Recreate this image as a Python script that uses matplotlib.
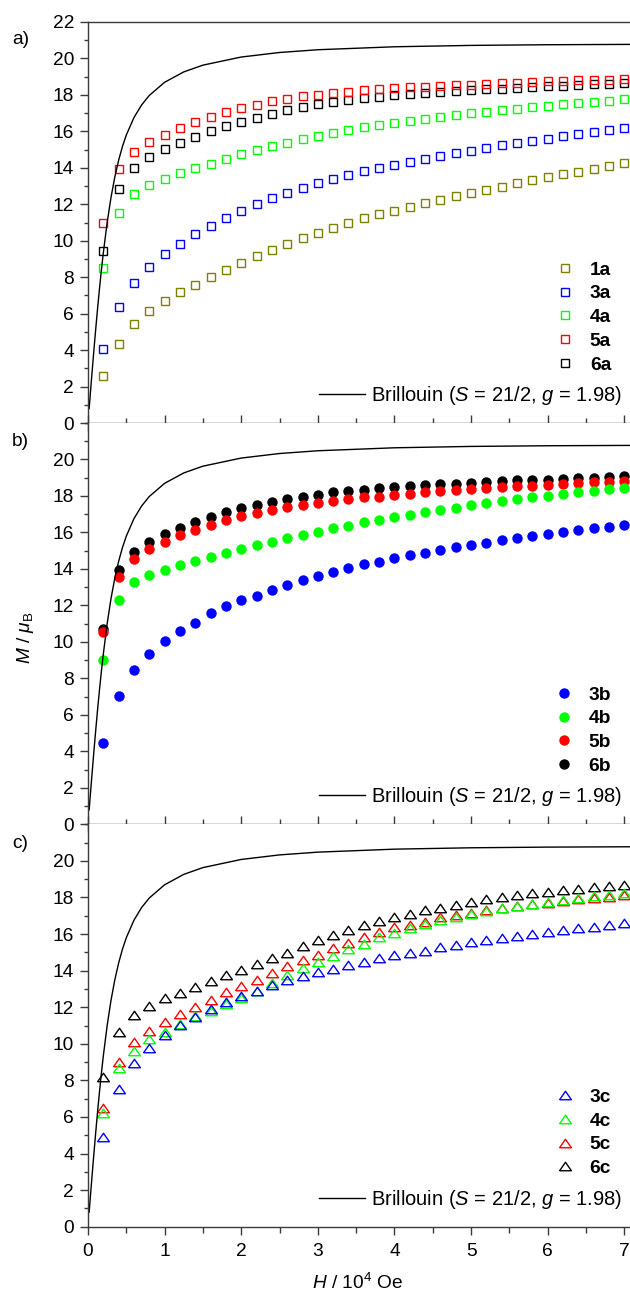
import numpy as np
import matplotlib
matplotlib.use("Agg")
import matplotlib.pyplot as plt
from matplotlib.ticker import MultipleLocator

plt.rcParams['font.family'] = ['Liberation Sans', 'DejaVu Sans']
plt.rcParams['mathtext.fontset'] = 'custom'
plt.rcParams['mathtext.rm'] = 'Liberation Sans'
plt.rcParams['mathtext.it'] = 'Liberation Sans:italic'
plt.rcParams['mathtext.bf'] = 'Liberation Sans:bold'

# field in 10^4 Oe, 0.2 ... 7.0
H = [0.2, 0.4, 0.6, 0.8, 1.0, 1.2, 1.4, 1.6, 1.8, 2.0, 2.2, 2.4, 2.6, 2.8, 3.0,
     3.2, 3.4, 3.6, 3.8, 4.0, 4.2, 4.4, 4.6, 4.8, 5.0, 5.2, 5.4, 5.6, 5.8, 6.0,
     6.2, 6.4, 6.6, 6.8, 7.0]

# Brillouin curve, S = 21/2, g = 1.98 (2 K)
H_bri = [0.015, 0.03, 0.05, 0.075, 0.1, 0.125, 0.15, 0.175, 0.2, 0.25, 0.3, 0.35,
         0.4, 0.45, 0.5, 0.6, 0.7, 0.8, 1.0, 1.25, 1.5, 2.0, 2.5, 3.0, 4.0, 5.0,
         6.0, 7.1]
M_bri = [0.795, 1.588, 2.627, 3.897, 5.119, 6.282, 7.375, 8.395, 9.338, 10.996,
         12.370, 13.496, 14.418, 15.174, 15.799, 16.758, 17.451, 17.971, 18.693,
         19.262, 19.633, 20.078, 20.327, 20.478, 20.641, 20.716, 20.753, 20.772]

# panel a
M_1a = [2.58, 4.33, 5.43, 6.14, 6.71, 7.17, 7.59, 7.99, 8.39, 8.78, 9.16, 9.51,
        9.84, 10.15, 10.42, 10.71, 10.95, 11.24, 11.45, 11.64, 11.87, 12.08,
        12.25, 12.45, 12.63, 12.80, 12.96, 13.15, 13.31, 13.48, 13.64, 13.79,
        13.95, 14.11, 14.25]
M_3a = [4.08, 6.38, 7.68, 8.56, 9.27, 9.84, 10.35, 10.82, 11.24, 11.63, 12.00,
        12.34, 12.63, 12.91, 13.15, 13.38, 13.60, 13.81, 13.99, 14.17, 14.34,
        14.50, 14.66, 14.81, 14.94, 15.09, 15.23, 15.36, 15.47, 15.60, 15.72,
        15.84, 15.95, 16.05, 16.16]
M_4a = [8.49, 11.52, 12.56, 13.04, 13.38, 13.71, 13.97, 14.23, 14.50, 14.76,
        14.98, 15.19, 15.38, 15.58, 15.74, 15.93, 16.06, 16.22, 16.33, 16.46,
        16.57, 16.68, 16.79, 16.88, 16.99, 17.08, 17.17, 17.24, 17.33, 17.41,
        17.48, 17.54, 17.61, 17.68, 17.76]
M_5a = [10.95, 13.95, 14.88, 15.41, 15.81, 16.16, 16.51, 16.80, 17.04, 17.30,
        17.46, 17.65, 17.79, 17.92, 18.01, 18.09, 18.17, 18.27, 18.30, 18.36,
        18.41, 18.45, 18.49, 18.52, 18.56, 18.60, 18.63, 18.67, 18.71, 18.74,
        18.78, 18.80, 18.82, 18.83, 18.85]
M_6a = [9.45, 12.85, 13.99, 14.57, 15.03, 15.38, 15.71, 16.00, 16.27, 16.51,
        16.71, 16.93, 17.15, 17.32, 17.48, 17.59, 17.72, 17.83, 17.90, 17.99,
        18.05, 18.10, 18.16, 18.21, 18.27, 18.30, 18.34, 18.38, 18.41, 18.47,
        18.50, 18.54, 18.58, 18.61, 18.65]

# panel b
M_3b = [4.45, 7.01, 8.44, 9.33, 10.03, 10.61, 11.05, 11.56, 11.96, 12.27,
        12.51, 12.82, 13.13, 13.37, 13.59, 13.81, 14.06, 14.25, 14.39, 14.59,
        14.76, 14.88, 15.05, 15.19, 15.30, 15.41, 15.56, 15.70, 15.81, 15.91,
        16.02, 16.13, 16.22, 16.29, 16.40]
M_4b = [8.99, 12.29, 13.26, 13.66, 13.92, 14.21, 14.43, 14.66, 14.88, 15.10,
        15.29, 15.47, 15.69, 15.87, 16.03, 16.24, 16.36, 16.55, 16.69, 16.82,
        16.95, 17.10, 17.24, 17.35, 17.50, 17.61, 17.72, 17.81, 17.92, 18.01,
        18.10, 18.21, 18.28, 18.37, 18.44]
M_5b = [10.55, 13.57, 14.52, 15.07, 15.47, 15.84, 16.13, 16.42, 16.67, 16.89,
        17.06, 17.22, 17.40, 17.50, 17.62, 17.72, 17.81, 17.92, 17.97, 18.04,
        18.10, 18.21, 18.26, 18.33, 18.37, 18.43, 18.48, 18.52, 18.57, 18.61,
        18.66, 18.72, 18.76, 18.77, 18.83]
M_6b = [10.70, 13.93, 14.94, 15.49, 15.92, 16.27, 16.58, 16.85, 17.11, 17.32,
        17.51, 17.68, 17.84, 17.95, 18.06, 18.19, 18.26, 18.35, 18.41, 18.48,
        18.54, 18.59, 18.65, 18.66, 18.72, 18.77, 18.81, 18.85, 18.87, 18.90,
        18.94, 18.96, 18.99, 19.05, 19.08]

# panel c
M_3c = [4.92, 7.51, 8.93, 9.78, 10.46, 11.04, 11.48, 11.90, 12.27, 12.61,
        12.90, 13.21, 13.48, 13.70, 13.94, 14.10, 14.32, 14.48, 14.67, 14.83,
        14.97, 15.10, 15.27, 15.41, 15.54, 15.65, 15.78, 15.89, 16.00, 16.10,
        16.20, 16.32, 16.41, 16.50, 16.58]
M_4c = [6.20, 8.66, 9.62, 10.24, 10.66, 11.08, 11.51, 11.80, 12.17, 12.52,
        12.90, 13.30, 13.75, 14.12, 14.48, 14.79, 15.16, 15.45, 15.85, 16.07,
        16.31, 16.54, 16.76, 16.94, 17.09, 17.27, 17.40, 17.52, 17.63, 17.76,
        17.85, 17.98, 18.07, 18.14, 18.22]
M_5c = [6.47, 9.00, 10.08, 10.69, 11.19, 11.62, 12.02, 12.37, 12.81, 13.17,
        13.48, 13.88, 14.26, 14.57, 14.85, 15.21, 15.49, 15.85, 16.12, 16.39,
        16.49, 16.67, 16.94, 17.03, 17.16, 17.31, 17.45, 17.56, 17.64, 17.72,
        17.81, 17.90, 17.97, 18.05, 18.12]
M_6c = [8.16, 10.66, 11.55, 12.06, 12.48, 12.79, 13.12, 13.43, 13.74, 14.03,
        14.36, 14.67, 14.99, 15.34, 15.67, 15.94, 16.21, 16.47, 16.72, 16.91,
        17.09, 17.31, 17.45, 17.60, 17.76, 17.89, 18.00, 18.11, 18.22, 18.31,
        18.40, 18.47, 18.55, 18.62, 18.69]

olive, blue, green, red, black = '#808000', '#0000ff', '#00ff00', '#ff0000', '#000000'

fig = plt.figure(figsize=(6.3, 12.98), dpi=100)
W, Hpx = 630, 1298
left = 88 / W
width = 542 / W
tops = [22, 423, 824.3]
bots = [423, 824.3, 1226.7]
axes = []
for t, b in zip(tops, bots):
    ax = fig.add_axes([left, 1 - b / Hpx, width, (b - t) / Hpx])
    axes.append(ax)

spine_col = '#3a3a3a'
for i, ax in enumerate(axes):
    ax.set_xlim(0, 7.075)
    ax.set_ylim(0, 22)
    ax.spines['right'].set_visible(False)
    if i > 0:
        ax.spines['top'].set_visible(False)
    for s in ax.spines.values():
        s.set_color(spine_col)
        s.set_linewidth(1.0)
    ax.xaxis.set_major_locator(MultipleLocator(1))
    ax.xaxis.set_minor_locator(MultipleLocator(0.5))
    ax.yaxis.set_minor_locator(MultipleLocator(1))
    if i == 0:
        ax.set_yticks(np.arange(0, 23, 2))
    else:
        ax.set_yticks(np.arange(0, 21, 2))
    ax.tick_params(axis='y', which='major', direction='out', length=6, width=1.0,
                   color=spine_col, labelsize=13.8, pad=4)
    ax.tick_params(axis='y', which='minor', direction='out', length=3, width=1.0,
                   color=spine_col)
    xdir = 'out' if i == 2 else 'inout'
    xlen = 6 if i == 2 else 11
    ax.tick_params(axis='x', which='major', direction=xdir, length=xlen, width=1.0,
                   color=spine_col, labelsize=13.8, pad=6, top=False)
    ax.tick_params(axis='x', which='minor', direction=xdir, length=xlen * 0.7,
                   width=1.0, color=spine_col, top=False)
    if i < 2:
        ax.tick_params(axis='x', labelbottom=False)

bri_label = r'Brillouin ($S$ = 21/2, $g$ = 1.98)'

# a) open squares
ax = axes[0]
sq = dict(marker='s', ms=6.3, mfc='none', mew=1.0, ls='none')
series_a = [(M_1a, olive, '1a'), (M_3a, blue, '3a'), (M_4a, green, '4a'),
            (M_5a, red, '5a'), (M_6a, black, '6a')]
handles = {}
for M, c, lab in reversed(series_a):
    handles[lab], = ax.plot(H, M, color=c, label=lab, **sq)
line, = ax.plot(H_bri, M_bri, color='black', lw=1.0)

# b) filled circles
series_b = [(M_3b, blue, '3b'), (M_4b, green, '4b'), (M_5b, red, '5b'),
            (M_6b, black, '6b')]
ax = axes[1]
for M, c, lab in reversed(series_b):
    handles[lab], = ax.plot(H, M, color=c, marker='o', ms=7.5, ls='none', mew=0, label=lab)
ax.plot(H_bri, M_bri, color='black', lw=1.0)

# c) open triangles
tri = [(-1, -0.72), (1, -0.72), (0, 0.72), (-1, -0.72)]
series_c = [(M_3c, blue, '3c'), (M_4c, green, '4c'), (M_5c, red, '5c'),
            (M_6c, black, '6c')]
ax = axes[2]
for M, c, lab in reversed(series_c):
    handles[lab], = ax.plot(H, M, color=c, marker=tri, ms=8.5, mfc='none', mew=1.0,
                            ls='none', label=lab)
ax.plot(H_bri, M_bri, color='black', lw=1.0)

for ax, series in zip(axes, [series_a, series_b, series_c]):
    labs = [s[2] for s in series]
    leg = ax.legend([handles[l] for l in labs], labs, loc='lower right',
                    bbox_to_anchor=(0.965, 0.123), frameon=False,
                    prop={'weight': 'bold', 'size': 13.8}, handlelength=1.0,
                    handletextpad=0.8, labelspacing=0.33, borderpad=0,
                    borderaxespad=0)
    ax.add_artist(leg)
    ax.legend([line], [bri_label], loc='lower right', bbox_to_anchor=(0.985, 0.04),
              frameon=False, fontsize=14.5, handlelength=2.25, handletextpad=0.3,
              borderpad=0, borderaxespad=0)

axes[2].set_xticks(range(0, 8))
axes[2].set_xticklabels([str(v) for v in range(0, 8)])

for lab, y in [('a)', 40), ('b)', 441), ('c)', 843)]:
    fig.text(12 / W, 1 - y / Hpx, lab, fontsize=13.8, ha='left', va='center')

fig.text(25 / W, 1 - 638 / Hpx, r'$M$ / $\mu_{\mathrm{B}}$', rotation=90,
         fontsize=13.8, ha='center', va='center')
fig.text(358 / W, 1 - 1283 / Hpx, r'$H$ / 10$^4$ Oe', fontsize=13.8,
         ha='center', va='center')

fig.savefig('out.png', dpi=100)
